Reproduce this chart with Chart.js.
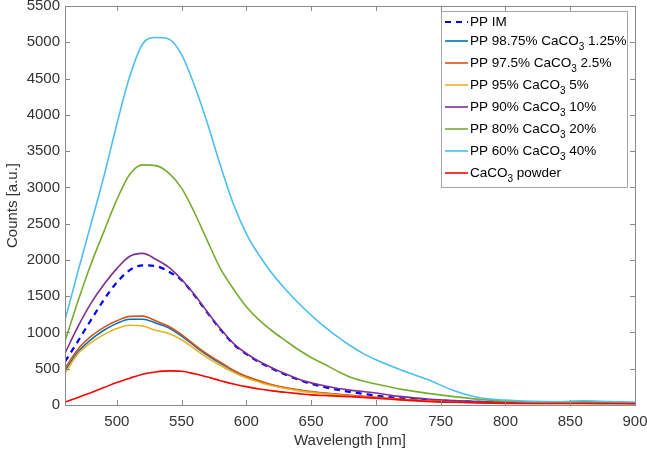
<!DOCTYPE html>
<html>
<head>
<meta charset="utf-8">
<script src="https://cdn.jsdelivr.net/npm/chart.js@4.4.1/dist/chart.umd.min.js"></script>
<style>
  body { margin: 0; background: #fff; }
</style>
</head>
<body>
<canvas id="chart" width="647" height="451"></canvas>
<script>
// wavelength grid [nm]
const wavelength = [460, 470, 480, 490, 500, 510, 520, 530, 540, 550, 560, 570, 580, 590, 600, 610, 620, 630, 640, 650,
  660, 670, 680, 690, 700, 720, 740, 760, 780, 800, 820, 840, 860, 880, 900];

const ppIM = [598, 880, 1170, 1450, 1690, 1860, 1925, 1915, 1840, 1720, 1510, 1270, 1040, 840, 700, 590, 500, 420, 350, 292,
  248, 210, 180, 155, 130, 92, 70, 55, 42, 36, 32, 30, 32, 30, 26];
const pp9875 = [474, 730, 900, 1030, 1125, 1182, 1183, 1130, 1065, 950, 815, 685, 575, 470, 388, 328, 275, 235, 205, 180,
  160, 145, 130, 115, 100, 75, 57, 45, 35, 29, 25, 24, 24, 22, 20];
const pp975 = [507, 770, 945, 1070, 1160, 1222, 1225, 1160, 1085, 970, 830, 700, 590, 480, 395, 335, 280, 240, 210, 185,
  165, 150, 135, 120, 105, 80, 60, 47, 37, 30, 26, 25, 25, 24, 20];
const pp95 = [438, 705, 860, 970, 1055, 1100, 1090, 1030, 985, 900, 775, 650, 545, 450, 372, 315, 265, 228, 198, 174,
  155, 140, 125, 110, 95, 70, 53, 42, 33, 27, 23, 23, 23, 21, 19];
const pp90 = [714, 1080, 1400, 1660, 1880, 2050, 2090, 2010, 1900, 1730, 1520, 1280, 1050, 850, 710, 600, 510, 430, 360, 305,
  265, 230, 205, 185, 165, 115, 82, 60, 46, 40, 36, 35, 40, 35, 30];
const pp80 = [880, 1430, 1940, 2390, 2830, 3180, 3310, 3300, 3200, 2990, 2650, 2260, 1880, 1600, 1355, 1170, 1020, 890, 765, 655,
  565, 470, 385, 330, 290, 215, 160, 115, 78, 52, 40, 36, 42, 36, 32];
const pp60 = [1170, 1840, 2490, 3150, 3870, 4530, 4980, 5065, 5045, 4830, 4400, 3880, 3300, 2770, 2360, 2060, 1810, 1600, 1410, 1240,
  1085, 945, 820, 712, 625, 480, 350, 200, 100, 68, 50, 45, 58, 46, 36];
const caco3 = [40, 105, 170, 240, 310, 370, 425, 455, 470, 465, 430, 385, 335, 290, 253, 220, 195, 175, 157, 140,
  130, 122, 115, 105, 95, 70, 50, 37, 27, 22, 20, 20, 20, 20, 20];

const seriesLabels = ["PP IM", "PP 98.75% CaCO₃ 1.25%", "PP 97.5% CaCO₃ 2.5%", "PP 95% CaCO₃ 5%",
  "PP 90% CaCO₃ 10%", "PP 80% CaCO₃ 20%", "PP 60% CaCO₃ 40%", "CaCO₃ powder"];
const seriesValues = [ppIM, pp9875, pp975, pp95, pp90, pp80, pp60, caco3];
const seriesColors = ["#0000ff", "#0072bd", "#d95319", "#edb120", "#7e2f8e", "#77ac30", "#4dbeee", "#ff0000"];

const xTicks = [500, 550, 600, 650, 700, 750, 800, 850, 900];
const yTicks = [0, 500, 1000, 1500, 2000, 2500, 3000, 3500, 4000, 4500, 5000, 5500];

const FONT = "'Liberation Sans', Arial, Helvetica, sans-serif";
const TEXT = "#333333";

const datasets = seriesValues.map((vals, i) => ({
  label: seriesLabels[i],
  data: wavelength.map((w, j) => ({ x: w, y: vals[j] })),
  borderColor: seriesColors[i],
  backgroundColor: seriesColors[i],
  borderWidth: i === 0 ? 2.2 : 1.6,
  borderDash: i === 0 ? [6, 5] : [],
  pointRadius: 0,
  cubicInterpolationMode: "monotone",
  fill: false,
  order: seriesValues.length - i,
}));

// box + inward ticks on all four sides, matlab style
const boxTicks = {
  id: "boxTicks",
  afterDatasetsDraw(chart) {
    const { ctx, chartArea: a, scales } = chart;
    ctx.save();
    ctx.strokeStyle = "#8a8a8a";
    ctx.lineWidth = 1;
    ctx.strokeRect(a.left + 0.5, a.top + 0.5, a.right - a.left, a.bottom - a.top);
    ctx.beginPath();
    xTicks.forEach((v) => {
      const px = Math.round(scales.x.getPixelForValue(v)) + 0.5;
      ctx.moveTo(px, a.bottom); ctx.lineTo(px, a.bottom - 5);
      ctx.moveTo(px, a.top); ctx.lineTo(px, a.top + 5);
    });
    yTicks.forEach((v) => {
      const py = Math.round(scales.y.getPixelForValue(v)) + 0.5;
      ctx.moveTo(a.left, py); ctx.lineTo(a.left + 5, py);
      ctx.moveTo(a.right, py); ctx.lineTo(a.right - 5, py);
    });
    ctx.stroke();
    ctx.restore();
  },
};

// legend drawn by hand so CaCO3 gets a real subscript
const subLegend = {
  id: "subLegend",
  afterDraw(chart) {
    const ctx = chart.ctx;
    const box = { x: 441.5, y: 11.5, w: 186, h: 176 };
    ctx.save();
    ctx.fillStyle = "#fff";
    ctx.fillRect(box.x, box.y, box.w, box.h);
    ctx.strokeStyle = "#a6a6a6";
    ctx.lineWidth = 1;
    ctx.strokeRect(box.x, box.y, box.w, box.h);
    chart.data.datasets.forEach((ds, i) => {
      const y = i === 0 ? 22 : 19 + 22 * i;
      ctx.beginPath();
      ctx.strokeStyle = ds.borderColor;
      ctx.lineWidth = ds.borderWidth;
      ctx.setLineDash(ds.borderDash);
      ctx.moveTo(445, y);
      ctx.lineTo(468, y);
      ctx.stroke();
      ctx.setLineDash([]);
      ctx.fillStyle = "#000";
      ctx.textBaseline = "middle";
      let x = 470;
      const parts = ds.label.split("₃");
      parts.forEach((p, k) => {
        ctx.font = "13.5px " + FONT;
        ctx.fillText(p, x, y);
        x += ctx.measureText(p).width;
        if (k < parts.length - 1) {
          ctx.font = "10px " + FONT;
          ctx.fillText("3", x, y + 6);
          x += ctx.measureText("3").width;
        }
      });
    });
    ctx.restore();
  },
};

new Chart(document.getElementById("chart"), {
  type: "line",
  data: { datasets },
  options: {
    responsive: false,
    animation: false,
    layout: { padding: { top: 6, right: 12, left: 0, bottom: 0 } },
    plugins: { legend: { display: false }, tooltip: { enabled: false } },
    scales: {
      x: {
        type: "linear",
        min: 460,
        max: 900,
        afterBuildTicks: (s) => { s.ticks = xTicks.map((v) => ({ value: v })); },
        afterFit: (s) => { s.height = 46; s.paddingLeft = 0; s.paddingRight = 0; },
        grid: { display: false, drawTicks: false },
        border: { display: false },
        ticks: { color: TEXT, font: { family: FONT, size: 15 }, padding: 8, maxRotation: 0, autoSkip: false },
        title: { display: true, text: "Wavelength [nm]", color: TEXT, font: { family: FONT, size: 15 }, padding: { top: 0, bottom: 1 } },
      },
      y: {
        min: 0,
        max: 5500,
        afterBuildTicks: (s) => { s.ticks = yTicks.map((v) => ({ value: v })); },
        afterFit: (s) => { s.width = 65; s.paddingTop = 0; s.paddingBottom = 0; },
        grid: { display: false, drawTicks: false },
        border: { display: false },
        ticks: { color: TEXT, font: { family: FONT, size: 15 }, padding: 5, autoSkip: false, callback: (v) => String(v) },
        title: { display: true, text: "Counts [a.u.]", color: TEXT, font: { family: FONT, size: 15 }, padding: { top: 4, bottom: 0 } },
      },
    },
  },
  plugins: [boxTicks, subLegend],
});
</script>
</body>
</html>
